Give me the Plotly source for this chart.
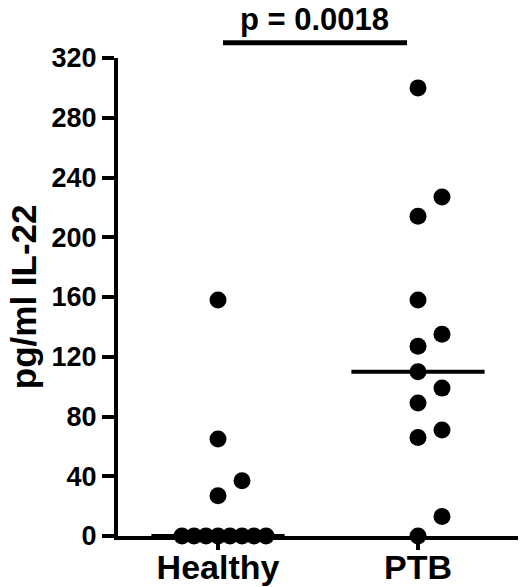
import numpy as np
import plotly.graph_objects as go

# data (pg/ml IL-22)
groups = ["Healthy", "PTB"]
healthy_vals = [0, 0, 0, 0, 0, 0, 0, 0, 27, 37, 65, 158]
ptb_vals = [0, 13, 66, 71, 89, 99, 110, 127, 135, 158, 214, 227, 300]
y_ticks = [0, 40, 80, 120, 160, 200, 240, 280, 320]
p_text = "p = 0.0018"

W, H = 520, 587
M = dict(l=118, r=2, t=58, b=51)
FONT = "Liberation Sans"

plot_h = H - M["t"] - M["b"]
px_per_y = plot_h / (y_ticks[-1] - y_ticks[0])
px_per_x = (W - M["l"] - M["r"]) / 2.0


def swarm(values, step=12, gap=20):
    # simple column-scatter layout, offsets worked out in pixels
    placed = []
    for v in sorted(values):
        k = 0
        order = [0] + [s * n for n in range(1, 20) for s in (1, -1)]
        for k in order:
            off = k * step
            hit = False
            for pv, po in placed:
                if abs(v - pv) * px_per_y < gap:
                    lim = step if v == pv else 2 * step
                    if abs(off - po) < lim:
                        hit = True
                        break
            if not hit:
                break
        placed.append((v, off))
    return [p[0] for p in placed], [p[1] / px_per_x for p in placed]


fig = go.Figure()

for i, vals in enumerate([healthy_vals, ptb_vals]):
    ys, offs = swarm(vals)
    fig.add_trace(go.Scatter(
        x=[i + o for o in offs], y=ys, mode="markers",
        marker=dict(color="black", size=17, line=dict(width=0)),
        cliponaxis=False, showlegend=False, hoverinfo="y"))
    med = float(np.median(vals))
    fig.add_trace(go.Scatter(
        x=[i - 0.333, i + 0.333], y=[med, med], mode="lines",
        line=dict(color="black", width=4), cliponaxis=False,
        showlegend=False, hoverinfo="skip"))

# significance bar + p value
fig.add_shape(type="line", xref="x", yref="paper", x0=0.025, x1=0.945,
              y0=1.032, y1=1.032, line=dict(color="black", width=5))
fig.add_annotation(text=p_text, xref="x", yref="paper", x=0.48, y=1.121,
                   showarrow=False, xanchor="center", yanchor="top",
                   font=dict(family=FONT, size=31, color="black", weight="bold"))

fig.add_annotation(text="pg/ml IL-22", xref="paper", yref="paper",
                   x=-0.237, y=0.5, textangle=-90, showarrow=False,
                   xanchor="center", yanchor="middle",
                   font=dict(family=FONT, size=35, color="black", weight="bold"))

fig.update_xaxes(range=[-0.5, 1.5], tickvals=[0, 1], ticktext=groups,
                 showgrid=False, zeroline=False, showline=True,
                 linecolor="black", linewidth=4, ticks="outside",
                 ticklen=10, tickwidth=4, tickcolor="black",
                 ticklabelstandoff=-12,
                 tickfont=dict(family=FONT, size=34, color="black", weight="bold"),
                 automargin=False)
fig.update_yaxes(range=[y_ticks[0], y_ticks[-1]], tickvals=y_ticks,
                 showgrid=False, zeroline=False, showline=True,
                 linecolor="black", linewidth=4, ticks="outside",
                 ticklen=12, tickwidth=4, tickcolor="black",
                 tickfont=dict(family=FONT, size=27, color="black", weight="bold"),
                 automargin=False)

fig.update_layout(width=W, height=H, margin=M,
                  plot_bgcolor="white", paper_bgcolor="white")

# page body has an 8px default margin, drop it so the figure sits at 0,0
fig.write_html("out.html", config={"displayModeBar": False},
               post_script="document.body.style.margin='0';")
